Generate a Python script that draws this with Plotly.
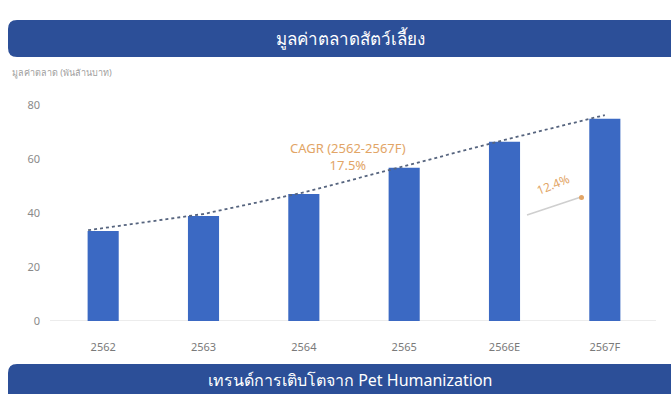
import plotly.graph_objects as go

categories = ["2562", "2563", "2564", "2565", "2566E", "2567F"]
market_values = [33.3, 38.9, 47.0, 56.7, 66.3, 74.8]
trend_values = [33.6, 39.6, 47.6, 57.4, 67.0, 76.2]
y_ticks = [0, 20, 40, 60, 80]

title_top = "มูลค่าตลาดสัตว์เลี้ยง"
title_bottom = "เทรนด์การเติบโตจาก Pet Humanization"
y_title = "มูลค่าตลาด (พันล้านบาท)"
cagr_label = "CAGR (2562-2567F)<br>17.5%"
yoy_label = "12.4%"

W, H = 671, 394
L, R = 53, 16
T, B = 94, 73
PW, PH = W - L - R, H - T - B

def px(x):
    return (x - L) / PW

def py(y):
    return (H - B - y) / PH

xs = list(range(len(categories)))
BLUE_BAR = "#3b69c3"
HEAD = "#2c4f98"
ORANGE = "#e2a566"
FONT = "Noto Sans, Open Sans, sans-serif"

fig = go.Figure()
fig.add_trace(go.Bar(x=xs, y=market_values, marker=dict(color=BLUE_BAR, line=dict(width=0)),
                     width=0.31, hoverinfo="skip"))
trend_x = [xs[0] - 0.15] + xs[1:]
fig.add_trace(go.Scatter(x=trend_x, y=trend_values, mode="lines",
                         line=dict(color="#56647e", width=1.8, dash="dot"), hoverinfo="skip"))


def rounded(x0, y0, x1, y1, r):
    pts = f"M {px(x0+r)},{py(y0)} L {px(x1)},{py(y0)} L {px(x1)},{py(y1)} L {px(x0+r)},{py(y1)} "
    pts += f"Q {px(x0)},{py(y1)} {px(x0)},{py(y1-r)} L {px(x0)},{py(y0+r)} Q {px(x0)},{py(y0)} {px(x0+r)},{py(y0)} Z"
    return pts

shapes = [
    dict(type="path", xref="paper", yref="paper", path=rounded(8, 20, 690, 57, 9),
         fillcolor=HEAD, line=dict(width=0), layer="above"),
    dict(type="path", xref="paper", yref="paper", path=rounded(8, 364, 690, 410, 9),
         fillcolor=HEAD, line=dict(width=0), layer="above"),
    dict(type="line", xref="paper", yref="y", x0=px(50), x1=px(656), y0=0, y1=0,
         line=dict(color="#e6e6e6", width=1.5), layer="below"),
    dict(type="line", xref="paper", yref="paper", x0=px(527), y0=py(215), x1=px(581), y1=py(197),
         line=dict(color="#cfcfcf", width=1.5)),
    dict(type="circle", xref="paper", yref="paper", x0=px(579), y0=py(195), x1=px(584), y1=py(200),
         fillcolor=ORANGE, line=dict(width=0)),
]

def ann(x, y, text, size, color, **kw):
    d = dict(xref="paper", yref="paper", x=px(x), y=py(y), text=text, showarrow=False,
             xanchor="center", yanchor="middle", font=dict(color=color, size=size, family=FONT))
    d.update(kw)
    return d

annotations = [
    ann(350, 38, title_top, 17, "white"),
    ann(350, 380, title_bottom, 16, "white"),
    ann(10, 73, y_title, 9, "#a0a0a0", xanchor="left"),
    ann(348, 156, cagr_label, 13, ORANGE),
    ann(553, 184, yoy_label, 12, ORANGE, textangle=-22),
]

fig.update_layout(
    width=W, height=H, margin=dict(l=L, r=R, t=T, b=B),
    paper_bgcolor="white", plot_bgcolor="white", showlegend=False,
    shapes=shapes, annotations=annotations,
    font=dict(family=FONT, color="#8a8a8a", size=11),
    xaxis=dict(range=[-0.5, 5.5], tickvals=xs, ticktext=categories, showgrid=False,
               zeroline=False, showline=False, ticks="", ticklabelstandoff=18,
               tickfont=dict(size=11, color="#7a7a7a")),
    yaxis=dict(range=[0, 84], tickvals=y_ticks, showgrid=False, zeroline=False, showline=False,
               ticks="", ticklabelstandoff=12, tickfont=dict(size=11, color="#8a8a8a")),
)
fig.write_html("out.html")
